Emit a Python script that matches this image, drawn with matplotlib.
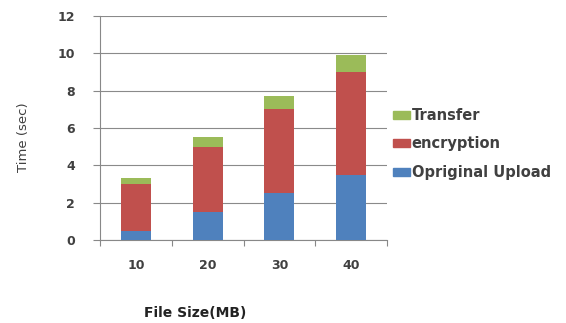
import matplotlib
matplotlib.use("Agg")
import matplotlib.pyplot as plt
from matplotlib.patches import Patch

categories = ["10", "20", "30", "40"]
original_upload = [0.5, 1.5, 2.5, 3.5]
encryption = [2.5, 3.5, 4.5, 5.5]
transfer = [0.3, 0.5, 0.7, 0.9]
yticks = [0, 2, 4, 6, 8, 10, 12]

c_blue = "#4F81BD"
c_red = "#C0504D"
c_green = "#9BBB59"
txt = "#404040"

fig = plt.figure(figsize=(5.66, 3.23), dpi=100)
ax = fig.add_axes([100/566, 1-240/323, 287/566, 224/323])

x = list(range(len(categories)))
w = 0.42
ax.bar(x, original_upload, w, color=c_blue, label="Opriginal Upload", zorder=3)
bot2 = original_upload
ax.bar(x, encryption, w, bottom=bot2, color=c_red, label="encryption", zorder=3)
bot3 = [a + b for a, b in zip(original_upload, encryption)]
ax.bar(x, transfer, w, bottom=bot3, color=c_green, label="Transfer", zorder=3)

ax.set_xlim(-0.5, len(categories) - 0.5)
ax.set_ylim(0, 12)
ax.set_yticks(yticks)
ax.set_yticklabels([str(v) for v in yticks], fontsize=9, fontweight="bold", color=txt)
ax.set_xticks(x)
ax.set_xticklabels(categories, fontsize=9, fontweight="bold", color=txt)
ax.tick_params(axis="x", length=0, pad=14)
ax.set_xticks([i + 0.5 for i in range(-1, len(categories))], minor=True)
ax.tick_params(axis="x", which="minor", length=4, color="#888888", width=0.8)
ax.tick_params(axis="y", length=5, color="#888888", width=0.8, pad=13)

ax.grid(axis="y", color="#8a8a8a", linewidth=0.8, zorder=0)
for s in ["top", "right"]:
    ax.spines[s].set_visible(False)
ax.spines["left"].set_color("#888888")
ax.spines["bottom"].set_color("#888888")

fig.text(24/566, 1-137/323, "Time (sec)", fontsize=9.5, color=txt,
         rotation=90, ha="center", va="center")
fig.text(195/566, 1-313/323, "File Size(MB)", fontsize=10, fontweight="bold",
         color="#222222", ha="center", va="center")

handles = [Patch(color=c_green), Patch(color=c_red), Patch(color=c_blue)]
labels = ["Transfer", "encryption", "Opriginal Upload"]
leg = fig.legend(handles, labels, loc="center left", bbox_to_anchor=(393/566, 1-144/323),
                 frameon=False, fontsize=10.5, handlelength=1.16, handleheight=0.48,
                 handletextpad=0.12, labelspacing=0.92, borderaxespad=0, borderpad=0)
for t in leg.get_texts():
    t.set_color(txt)
    t.set_fontweight("bold")

fig.savefig("out.png", dpi=100)
